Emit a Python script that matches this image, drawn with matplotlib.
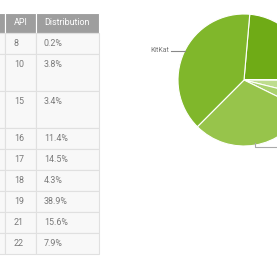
import matplotlib.pyplot as plt
from matplotlib.patches import Rectangle

# table data (version column is cropped off at the left edge)
api = ['8', '10', '15', '16', '17', '18', '19', '21', '22']
distribution = [0.2, 3.8, 3.4, 11.4, 14.5, 4.3, 38.9, 15.6, 7.9]
row_heights = [21, 37, 37, 21, 21, 21, 21, 21, 21]

# pie data: shares grouped by version name
versions = ['Lollipop', 'Froyo', 'Gingerbread', 'Ice Cream Sandwich', 'Jelly Bean', 'KitKat']
shares = [15.6 + 7.9, 0.2, 3.8, 3.4, 11.4 + 14.5 + 4.3, 38.9]
colors = ['#6fab16', '#d2e8b0', '#bedd8e', '#aad26e', '#97c44b', '#80b72b']

plt.rcParams['font.family'] = ['Roboto', 'DejaVu Sans']

fig = plt.figure(figsize=(2.77, 2.60), dpi=100)
ax = fig.add_axes([0, 0, 1, 1])
ax.set_xlim(0, 277)
ax.set_ylim(260, 0)
ax.axis('off')

text_color = '#7a7a7a'
grid_color = '#e0e0e0'
col_x = [-40, 5, 36, 99]

# header
top = 12.5
header_h = 20.5
for i in range(3):
    ax.add_patch(Rectangle((col_x[i], top), col_x[i + 1] - col_x[i], header_h,
                           facecolor='#9e9e9e', edgecolor='white', lw=0.8))
ax.text(14, top + header_h / 2, 'API', color='white', fontsize=6.4, va='center')
ax.text(44, top + header_h / 2, 'Distribution', color='white', fontsize=6.4, va='center')

# body rows
y = top + header_h
for a, d, h in zip(api, distribution, row_heights):
    for i in range(3):
        ax.add_patch(Rectangle((col_x[i], y), col_x[i + 1] - col_x[i], h,
                               facecolor='#f8f8f8', edgecolor=grid_color, lw=0.8))
    ax.text(14, y + 10.5, a, color=text_color, fontsize=6.4, va='center')
    ax.text(44, y + 10.5, f'{d}%', color=text_color, fontsize=6.4, va='center')
    y += h

# pie chart, center (244, 80) px, radius 66 px
pax = fig.add_axes([178 / 277, (260 - 146) / 260, 132 / 277, 132 / 260])
pax.pie(shares, colors=colors, startangle=85, counterclock=False,
        wedgeprops=dict(edgecolor='white', linewidth=0.8))
pax.set_xlim(-1, 1)
pax.set_ylim(-1, 1)
pax.set_aspect('equal')
pax.axis('off')

# leader lines
pax.plot([-1.106, -0.90], [0.44, 0.44], color='#888888', lw=0.8, clip_on=False)
pax.text(-1.136, 0.44, 'KitKat', color=text_color, fontsize=5, ha='right', va='center')
pax.plot([0.167, 0.167, 1.6], [-0.955, -1.015, -1.015], color='#aaaaaa', lw=0.8, clip_on=False)

fig.savefig('out.png', dpi=100)
